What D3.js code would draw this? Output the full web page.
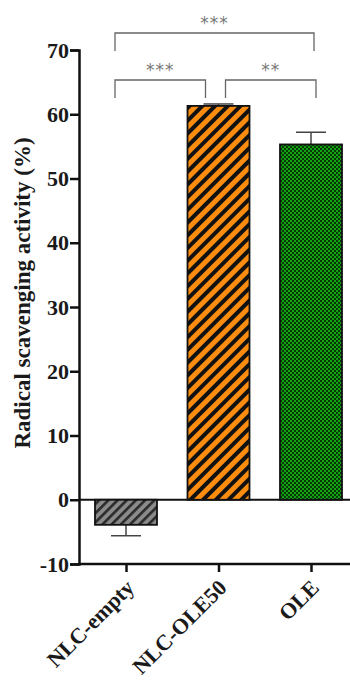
<!DOCTYPE html>
<html>
<head>
<meta charset="utf-8">
<script src="https://cdn.jsdelivr.net/npm/d3@7"></script>
<style>
  body { margin: 0; background: #fff; }
  svg { display: block; }
</style>
</head>
<body>
<div id="chart"></div>
<script>
// data
var categories = ['NLC-empty', 'NLC-OLE50', 'OLE'];
var means = [-3.9, 61.3, 55.3];
var errors = [1.7, 0.3, 1.9];
var fills = ['url(#hatchGray)', 'url(#hatchOrange)', 'url(#checkGreen)'];
var yTicks = [-10, 0, 10, 20, 30, 40, 50, 60, 70];
// significance brackets: [from, to, label, level]
var brackets = [
    ['NLC-empty', 'OLE', '***', 0],
    ['NLC-empty', 'NLC-OLE50', '***', 1],
    ['NLC-OLE50', 'OLE', '**', 1]
];

var width = 350, height = 684;
var margin = {left: 79, right: 0, top: 50, bottom: 120};

var svg = d3.select('#chart').append('svg')
    .attr('width', width).attr('height', height);

var defs = svg.append('defs');

var pg = defs.append('pattern').attr('id', 'hatchGray')
    .attr('patternUnits', 'userSpaceOnUse')
    .attr('width', 6.5).attr('height', 6.5)
    .attr('patternTransform', 'rotate(45)');
pg.append('rect').attr('width', 6.5).attr('height', 6.5).attr('fill', '#8a8a8a');
pg.append('rect').attr('width', 2.6).attr('height', 6.5).attr('fill', '#2a2a2a');

var po = defs.append('pattern').attr('id', 'hatchOrange')
    .attr('patternUnits', 'userSpaceOnUse')
    .attr('width', 9).attr('height', 9)
    .attr('patternTransform', 'rotate(45)');
po.append('rect').attr('width', 9).attr('height', 9).attr('fill', '#fb8c10');
po.append('rect').attr('width', 4).attr('height', 9).attr('fill', '#111');

var pc = defs.append('pattern').attr('id', 'checkGreen')
    .attr('patternUnits', 'userSpaceOnUse')
    .attr('width', 4).attr('height', 4);
pc.append('rect').attr('width', 4).attr('height', 4).attr('fill', '#13a313');
pc.append('rect').attr('width', 2).attr('height', 2).attr('fill', '#063806');
pc.append('rect').attr('x', 2).attr('y', 2).attr('width', 2).attr('height', 2).attr('fill', '#063806');

var x = d3.scalePoint()
    .domain(categories)
    .range([126, 311]);

var y = d3.scaleLinear()
    .domain([-10, 70])
    .range([564, 50]);

var barW = 62;
var font = '"Liberation Serif", "Times New Roman", serif';

// zero line
svg.append('line')
    .attr('x1', margin.left).attr('x2', width)
    .attr('y1', y(0)).attr('y2', y(0))
    .attr('stroke', '#111').attr('stroke-width', 2);

// bars
var g = svg.append('g').attr('class', 'bars');
categories.forEach(function (c, i) {
    var v = means[i];
    var top = y(Math.max(0, v)), bot = y(Math.min(0, v));
    // error bar (one-sided, away from zero)
    var ey = y(v + (v >= 0 ? errors[i] : -errors[i]));
    g.append('line')
        .attr('x1', x(c)).attr('x2', x(c))
        .attr('y1', v >= 0 ? top : bot).attr('y2', ey)
        .attr('stroke', '#444').attr('stroke-width', 1.5);
    g.append('line')
        .attr('x1', x(c) - 15).attr('x2', x(c) + 15)
        .attr('y1', ey).attr('y2', ey)
        .attr('stroke', '#444').attr('stroke-width', 1.5);
    g.append('rect')
        .attr('x', x(c) - barW / 2).attr('width', barW)
        .attr('y', top).attr('height', bot - top)
        .attr('fill', fills[i])
        .attr('stroke', '#111').attr('stroke-width', 1.8);
});

// y axis
var yAxis = svg.append('g')
    .attr('transform', 'translate(' + margin.left + ',0)')
    .call(d3.axisLeft(y).tickValues(yTicks).tickSize(9).tickPadding(1)
        .tickFormat(function (d) { return d < 0 ? '-' + Math.abs(d) : d; }));
yAxis.select('.domain').attr('stroke', '#111').attr('stroke-width', 2.5);
yAxis.selectAll('.tick line').attr('stroke', '#111').attr('stroke-width', 2.5);
yAxis.selectAll('.tick text')
    .attr('font-family', font).attr('font-weight', 'bold')
    .attr('font-size', 22).attr('fill', '#1a1a1a');

// x axis
var xAxis = svg.append('g')
    .attr('transform', 'translate(0,' + y(-10) + ')')
    .call(d3.axisBottom(x).tickSize(8).tickSizeOuter(0));
xAxis.select('.domain').attr('d', 'M' + margin.left + ',0H' + width)
    .attr('stroke', '#111').attr('stroke-width', 2.5);
xAxis.selectAll('.tick line').attr('stroke', '#111').attr('stroke-width', 2.5);
xAxis.selectAll('.tick text')
    .attr('font-family', font).attr('font-weight', 'bold')
    .attr('font-size', 22).attr('fill', '#1a1a1a')
    .attr('text-anchor', 'end')
    .attr('dy', 0).attr('y', 0)
    .attr('transform', 'translate(9,25) rotate(-45)');

// y label
svg.append('text')
    .attr('transform', 'translate(30,293) rotate(-90)')
    .attr('text-anchor', 'middle')
    .attr('font-family', font).attr('font-weight', 'bold')
    .attr('font-size', 23).attr('fill', '#1a1a1a')
    .text('Radical scavenging activity (%)');

// significance brackets
var levelY = [33, 80];
var legLen = 18;
brackets.forEach(function (b) {
    var x1 = x(b[0]) - 11, x2 = x(b[1]) + 3;
    if (b[3] === 1) {
        if (b[0] === 'NLC-empty') { x1 = x(b[0]) - 11; x2 = x(b[1]) - 13; }
        else { x1 = x(b[0]) + 7; x2 = x(b[1]) + 5; }
    }
    var by = levelY[b[3]];
    svg.append('path')
        .attr('d', 'M' + x1 + ',' + (by + legLen) + 'V' + by + 'H' + x2 + 'V' + (by + legLen))
        .attr('fill', 'none').attr('stroke', '#666').attr('stroke-width', 1.3);
    svg.append('text')
        .attr('x', (x1 + x2) / 2).attr('y', by - 4)
        .attr('text-anchor', 'middle')
        .attr('font-family', '"DejaVu Sans", sans-serif').attr('font-size', 17)
        .attr('letter-spacing', 1)
        .attr('fill', '#777')
        .text(b[2]);
});
</script>
</body>
</html>
